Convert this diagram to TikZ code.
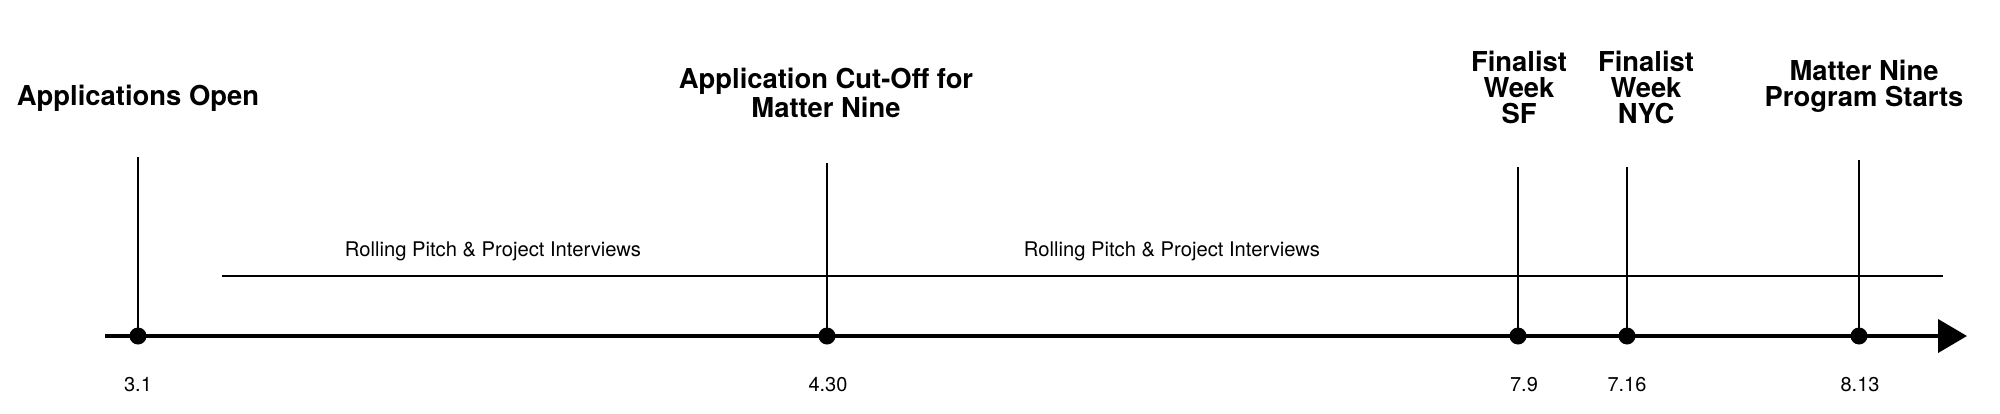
\documentclass[tikz,border=0pt]{standalone}
\usepackage{fontspec}
\setmainfont{TeX Gyre Heros}
\usetikzlibrary{arrows.meta}
\begin{document}
\begin{tikzpicture}[x=0.5pt,y=-0.5pt,
  axisline/.style={line width=2pt,black},
  spanline/.style={line width=1pt,black},
  vline/.style={line width=0.7pt,black},
  dot/.style={circle,fill=black,inner sep=0pt,minimum size=8.5pt},
  title/.style={font=\bfseries\fontsize{13.7}{12.8}\selectfont,align=center,inner sep=0pt,anchor=base},
  datelbl/.style={font=\fontsize{10}{12}\selectfont,inner sep=0pt,anchor=base},
  spanlbl/.style={font=\fontsize{10.1}{12}\selectfont,inner sep=0pt,anchor=base}]
\useasboundingbox (0,0) rectangle (2000,413);
% axis and span line
\coordinate (a0) at (105,336);
\coordinate (a1) at (1967,336);
\draw[axisline,-{Triangle[length=14.5pt,width=16.5pt]}] (a0) -- (a1);
\coordinate (u0) at (222,276);
\coordinate (u1) at (1943,276);
\draw[spanline] (u0) -- (u1);
% vertical tops
\coordinate (t1) at (138,157);
\coordinate (t2) at (827,163);
\coordinate (t3) at (1518,167);
\coordinate (t4) at (1627,167);
\coordinate (t5) at (1859,160);
% dots
\node[dot] (d1) at (138,336) {};
\node[dot] (d2) at (827,336) {};
\node[dot] (d3) at (1518,336) {};
\node[dot] (d4) at (1627,336) {};
\node[dot] (d5) at (1859,336) {};
\draw[vline] (t1) -- (d1.center);
\draw[vline] (t2) -- (d2.center);
\draw[vline] (t3) -- (d3.center);
\draw[vline] (t4) -- (d4.center);
\draw[vline] (t5) -- (d5.center);
% titles (base anchor = baseline of last line)
\node[title] (l1) at (138,105) {Applications Open};
\node[title] (l2) at (826,117) {Application Cut-Off for\\Matter Nine};
\node[title] (l3) at (1519,123) {Finalist\\Week\\SF};
\node[title] (l4) at (1646,123) {Finalist\\Week\\NYC};
\node[title] (l5) at (1864,106) {Matter Nine\\Program Starts};
% span labels
\node[spanlbl] (s1) at (493,256) {Rolling Pitch \& Project Interviews};
\node[spanlbl] (s2) at (1172,256) {Rolling Pitch \& Project Interviews};
% dates
\node[datelbl] (e1) at (138,391) {3.1};
\node[datelbl] (e2) at (828,391) {4.30};
\node[datelbl] (e3) at (1524,391) {7.9};
\node[datelbl] (e4) at (1627,391) {7.16};
\node[datelbl] (e5) at (1860,391) {8.13};
\end{tikzpicture}
\end{document}
